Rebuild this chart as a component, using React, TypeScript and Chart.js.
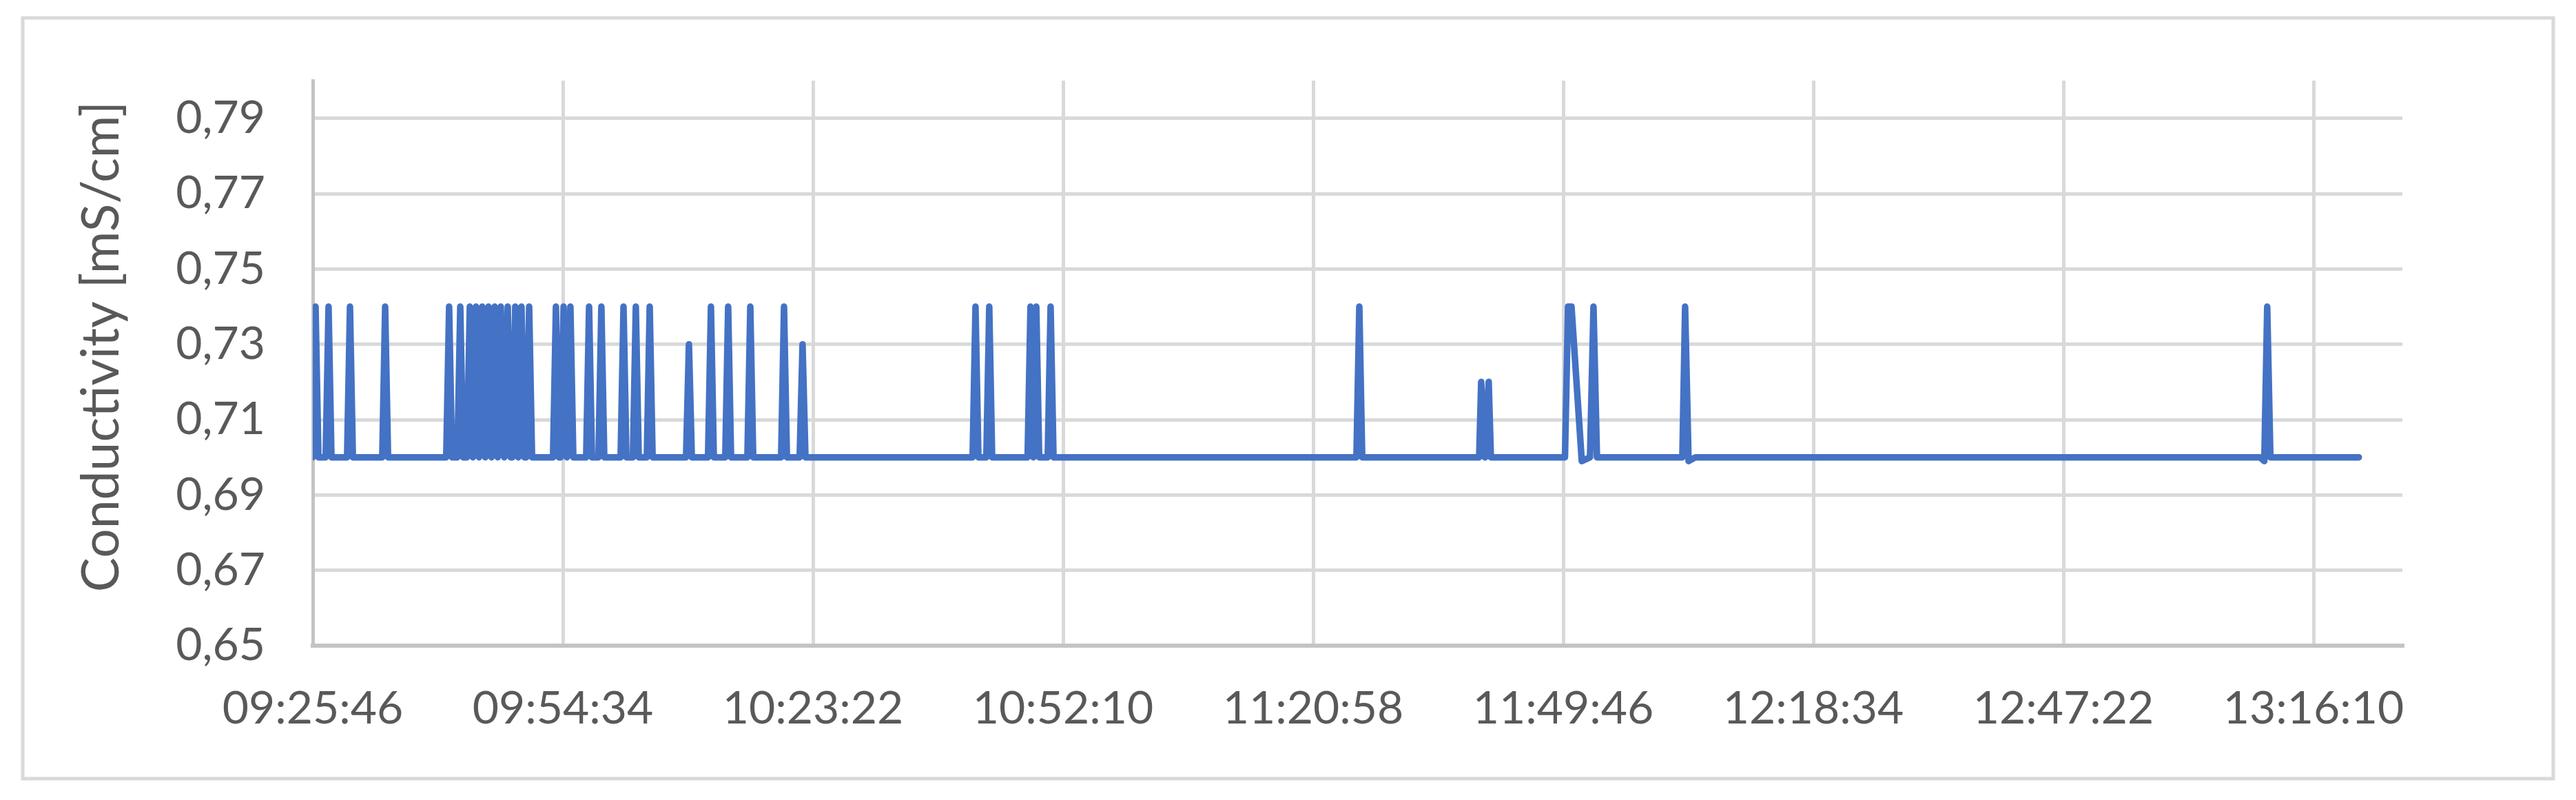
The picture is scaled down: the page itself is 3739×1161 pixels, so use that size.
import React, { useEffect, useRef } from "react";
import { Chart, registerables } from "chart.js";

Chart.register(...registerables);

// Vertices of the conductivity trace (time of day, value in mS/cm)
const sampleTimes: string[] = [
  "09:25:46", "09:26:05", "09:26:25", "09:27:15", "09:27:35", "09:27:55",
  "09:29:43", "09:30:03", "09:30:23", "09:33:46", "09:34:06", "09:34:26",
  "09:41:08", "09:41:28", "09:41:48", "09:42:25", "09:42:45", "09:43:05",
  "09:43:31", "09:43:51", "09:44:12", "09:44:34", "09:44:55", "09:45:17",
  "09:45:38", "09:46:00", "09:46:21", "09:46:43", "09:47:04", "09:47:25",
  "09:47:49", "09:48:13", "09:48:33", "09:48:45", "09:49:05", "09:49:26",
  "09:49:48", "09:50:08", "09:50:21", "09:50:41", "09:51:01",
  "09:53:26", "09:53:46", "09:54:06", "09:54:19", "09:54:39", "09:55:02",
  "09:55:26", "09:55:46", "09:57:15", "09:57:35", "09:57:55",
  "09:58:40", "09:59:00", "09:59:20", "10:01:13", "10:01:33", "10:01:53",
  "10:02:38", "10:02:58", "10:03:18", "10:04:14", "10:04:34", "10:04:54",
  "10:08:45", "10:09:05", "10:09:25", "10:11:17", "10:11:37", "10:11:57",
  "10:13:16", "10:13:36", "10:13:56", "10:15:49", "10:16:09", "10:16:29",
  "10:19:42", "10:20:02", "10:20:22", "10:21:50", "10:22:10", "10:22:30",
  "10:41:45", "10:42:05", "10:42:25", "10:43:20", "10:43:40", "10:44:00",
  "10:48:05", "10:48:25", "10:48:45", "10:49:05", "10:49:25",
  "10:50:24", "10:50:44", "10:51:04",
  "11:25:57", "11:26:17", "11:26:37",
  "11:40:05", "11:40:19", "11:40:45", "11:41:11", "11:41:26",
  "11:49:58", "11:50:19", "11:50:43", "11:51:54", "11:52:51", "11:53:15", "11:53:39",
  "12:03:29", "12:03:48", "12:04:12", "12:05:00",
  "13:10:00", "13:10:30", "13:10:50", "13:11:12", "13:21:23",
];

const conductivity: number[] = [
  0.70, 0.74, 0.70, 0.70, 0.74, 0.70,
  0.70, 0.74, 0.70, 0.70, 0.74, 0.70,
  0.70, 0.74, 0.70, 0.70, 0.74, 0.70,
  0.70, 0.74, 0.70, 0.74, 0.70, 0.74,
  0.70, 0.74, 0.70, 0.74, 0.70, 0.74,
  0.70, 0.74, 0.70, 0.70, 0.74, 0.70,
  0.74, 0.70, 0.70, 0.74, 0.70,
  0.70, 0.74, 0.70, 0.70, 0.74, 0.70,
  0.74, 0.70, 0.70, 0.74, 0.70,
  0.70, 0.74, 0.70, 0.70, 0.74, 0.70,
  0.70, 0.74, 0.70, 0.70, 0.74, 0.70,
  0.70, 0.73, 0.70, 0.70, 0.74, 0.70,
  0.70, 0.74, 0.70, 0.70, 0.74, 0.70,
  0.70, 0.74, 0.70, 0.70, 0.73, 0.70,
  0.70, 0.74, 0.70, 0.70, 0.74, 0.70,
  0.70, 0.74, 0.70, 0.74, 0.70,
  0.70, 0.74, 0.70,
  0.70, 0.74, 0.70,
  0.70, 0.72, 0.70, 0.72, 0.70,
  0.70, 0.74, 0.74, 0.699, 0.70, 0.74, 0.70,
  0.70, 0.74, 0.699, 0.70,
  0.70, 0.699, 0.74, 0.70, 0.70,
];

const xTickLabels: string[] = [
  "09:25:46", "09:54:34", "10:23:22", "10:52:10", "11:20:58",
  "11:49:46", "12:18:34", "12:47:22", "13:16:10",
];
const xAxisMin = "09:25:46";
const xAxisMax = "13:26:24";

const yTickValues: number[] = [0.65, 0.67, 0.69, 0.71, 0.73, 0.75, 0.77, 0.79];
const yTickLabels: string[] = ["0,65", "0,67", "0,69", "0,71", "0,73", "0,75", "0,77", "0,79"];
const yAxisMin = 0.65;
const yAxisMax = 0.8;
const yAxisTitle = "Conductivity [mS/cm]";

const toSec = (s: string): number => {
  const [h, m, sec] = s.split(":").map(Number);
  return h * 3600 + m * 60 + sec;
};

const FONT = "Lato, 'Open Sans', sans-serif";
const TEXT_COLOR = "#595959";

export default function App() {
  const canvasRef = useRef<HTMLCanvasElement | null>(null);

  useEffect(() => {
    const canvas = canvasRef.current;
    if (!canvas) return;

    const points = sampleTimes.map((t, i) => ({ x: toSec(t), y: conductivity[i] }));
    const xTickSecs = xTickLabels.map(toSec);

    const framePlugin = {
      id: "frame",
      beforeDraw(chart: any) {
        const ctx = chart.ctx;
        ctx.save();
        ctx.fillStyle = "#ffffff";
        ctx.fillRect(0, 0, chart.width, chart.height);
        ctx.strokeStyle = "#D9D9D9";
        ctx.lineWidth = 5;
        ctx.strokeRect(33, 26, 3706 - 33, 1130 - 26);
        ctx.restore();
      },
      afterDraw(chart: any) {
        const ctx = chart.ctx;
        ctx.save();
        ctx.translate(148, 503);
        ctx.rotate(-Math.PI / 2);
        ctx.font = `75px ${FONT}`;
        ctx.fillStyle = TEXT_COLOR;
        ctx.textAlign = "center";
        ctx.textBaseline = "middle";
        ctx.fillText(yAxisTitle, 0, 0);
        ctx.restore();
      },
    };

    const chart = new Chart(canvas, {
      type: "scatter",
      data: {
        datasets: [
          {
            data: points,
            showLine: true,
            borderColor: "#4472C4",
            backgroundColor: "#4472C4",
            borderWidth: 9.5,
            borderJoinStyle: "round",
            borderCapStyle: "round",
            pointRadius: 0,
            pointHoverRadius: 0,
            tension: 0,
          },
        ],
      },
      options: {
        responsive: false,
        animation: false,
        devicePixelRatio: 1,
        layout: { padding: { left: 0, top: 117, right: 252, bottom: 0 } },
        plugins: {
          legend: { display: false },
          tooltip: { enabled: false },
          title: { display: false },
        },
        scales: {
          x: {
            type: "linear",
            min: toSec(xAxisMin),
            max: toSec(xAxisMax),
            afterBuildTicks: (axis: any) => {
              axis.ticks = xTickSecs.map((v) => ({ value: v }));
            },
            afterFit: (scale: any) => {
              scale.height = 224;
            },
            ticks: {
              autoSkip: false,
              maxRotation: 0,
              minRotation: 0,
              padding: 52,
              color: TEXT_COLOR,
              font: { family: FONT, size: 66 },
              callback: (_v: any, i: number) => xTickLabels[i],
            },
            grid: { color: "#D9D9D9", lineWidth: 5, drawTicks: false },
            border: { display: true, color: "#C4C4C4", width: 6 },
          },
          y: {
            type: "linear",
            min: yAxisMin,
            max: yAxisMax,
            afterBuildTicks: (axis: any) => {
              axis.ticks = yTickValues.map((v) => ({ value: v }));
            },
            afterFit: (scale: any) => {
              scale.width = 454;
            },
            ticks: {
              padding: 69,
              color: TEXT_COLOR,
              font: { family: FONT, size: 66 },
              callback: (_v: any, i: number) => yTickLabels[i],
            },
            grid: { color: "#D9D9D9", lineWidth: 5, drawTicks: false },
            border: { display: true, color: "#C4C4C4", width: 5 },
          },
        },
      },
      plugins: [framePlugin],
    } as any);

    return () => {
      chart.destroy();
    };
  }, []);

  return (
    <div style={{ position: "absolute", left: 0, top: 0, width: 3739, height: 1161, background: "#fff" }}>
      <canvas ref={canvasRef} width={3739} height={1161} style={{ width: 3739, height: 1161, display: "block" }} />
    </div>
  );
}
